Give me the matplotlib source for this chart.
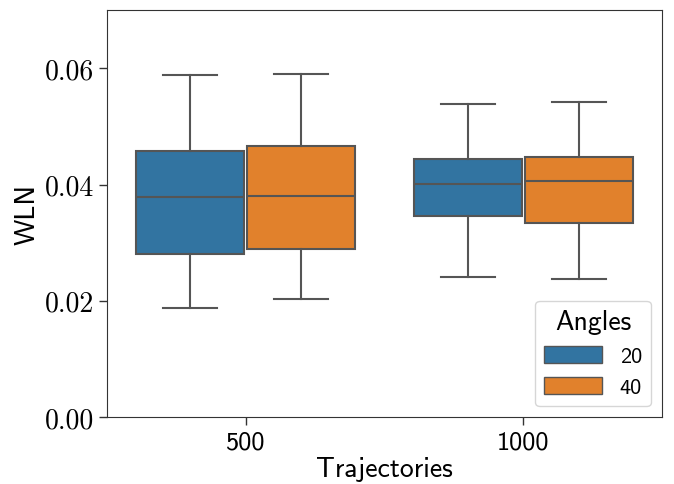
import matplotlib
matplotlib.use("Agg")
import matplotlib.pyplot as plt
from matplotlib.patches import Patch

plt.rcParams['font.family'] = ['cmss10', 'DejaVu Sans']
plt.rcParams['axes.unicode_minus'] = False
plt.rcParams['axes.formatter.use_mathtext'] = True

trajectories = ['500', '1000']
angles = ['20', '40']
colors = ['#3274a1', '#e1812c']
yticks = [0.00, 0.02, 0.04, 0.06]
ytick_labels = ['0.00', '0.02', '0.04', '0.06']

# box stats: [traj][angle] -> (whislo, q1, med, q3, whishi)
stats = {
    ('500', '20'): (0.0187, 0.0280, 0.0378, 0.0457, 0.0588),
    ('500', '40'): (0.0203, 0.0289, 0.0380, 0.0466, 0.0590),
    ('1000', '20'): (0.0241, 0.0346, 0.0401, 0.0444, 0.0538),
    ('1000', '40'): (0.0237, 0.0334, 0.0406, 0.0447, 0.0542),
}

fig, ax = plt.subplots(figsize=(6.74, 4.85), dpi=100)
fig.subplots_adjust(left=0.159, right=0.982, top=0.977, bottom=0.138)

gray = '#555555'
for i, t in enumerate(trajectories):
    for j, a in enumerate(angles):
        lo, q1, med, q3, hi = stats[(t, a)]
        s = [dict(whislo=lo, q1=q1, med=med, q3=q3, whishi=hi, fliers=[])]
        pos = i + (j - 0.5) * 0.4
        ax.bxp(s, positions=[pos], widths=0.39, patch_artist=True,
               showfliers=False,
               boxprops=dict(facecolor=colors[j], edgecolor=gray, linewidth=1.5),
               medianprops=dict(color=gray, linewidth=1.5),
               whiskerprops=dict(color=gray, linewidth=1.5),
               capprops=dict(color=gray, linewidth=1.5))

ax.set_xlim(-0.5, 1.5)
ax.set_ylim(0, 0.07)
ax.set_xticks(range(len(trajectories)))
ax.set_xticklabels(trajectories)
ax.set_yticks(yticks)
ax.set_yticklabels(ytick_labels, fontfamily='cmr10', fontsize=20)
ax.tick_params(axis='x', labelsize=19)
ax.tick_params(axis='both', color='#333333', width=1.0, length=6)
for sp in ax.spines.values():
    sp.set_color('#333333')
ax.set_xlabel('Trajectories', fontsize=20, labelpad=2)
ax.set_ylabel('WLN', fontsize=20, labelpad=4)

handles = [Patch(facecolor=colors[j], edgecolor=gray, linewidth=1.0) for j in range(len(angles))]
leg = ax.legend(handles, angles, title='Angles', loc='lower right', fontsize=16,
                title_fontsize=20, handlelength=2.6, handleheight=0.8)

fig.savefig('out.png', dpi=100)
